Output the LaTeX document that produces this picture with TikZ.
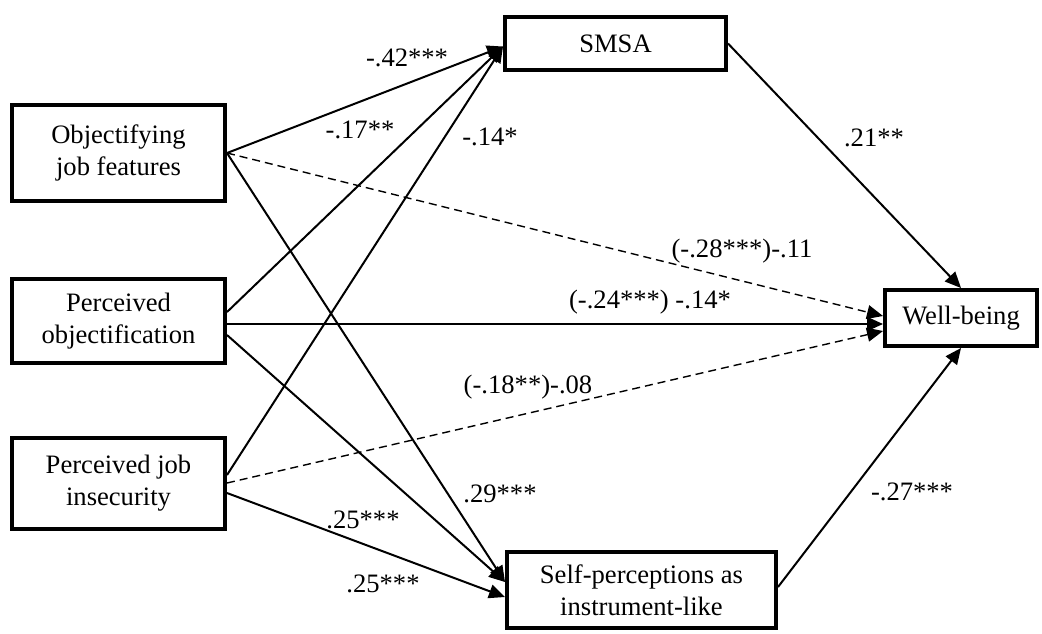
\documentclass[tikz,border=0pt]{standalone}
\usepackage{fontspec}
\setmainfont{Liberation Serif}
\usetikzlibrary{arrows.meta,calc}

\begin{document}
\begin{tikzpicture}[
    x=0.5pt, y=-0.5pt,
    every node/.style={font=\fontsize{13.3}{16}\selectfont},
    caja/.style={draw, line width=2pt, align=center, inner sep=0pt},
    predictor/.style={caja, minimum width=106.5pt},
    flecha/.style={-{Triangle[length=8pt,width=7pt]}, line width=1pt},
    nosig/.style={flecha, line width=0.7pt, dash pattern=on 4pt off 2.5pt}
]
\useasboundingbox (0,0) rectangle (1042,633);
% Predictores
\node[predictor, minimum height=48pt] (obj) at (118.5,153) {Objectifying\\job features};
\node[predictor, minimum height=42pt] (perc) at (118.5,321) {Perceived\\objectification};
\node[predictor, minimum height=45.5pt] (inseg) at (118.5,483) {Perceived job\\insecurity};
% Mediadores
\node[caja, minimum width=110.5pt, minimum height=26.5pt] (smsa) at (615.5,43.5) {SMSA};
\node[caja, minimum width=134.5pt, minimum height=38pt] (instr) at (641.5,590) {Self-perceptions as\\instrument-like};
% Resultado
\node[caja, minimum width=76pt, minimum height=28pt] (bien) at (961,318) {Well-being};
% Aristas
\draw[flecha] (obj.east) -- ($(smsa.west)+(0,3)$);
\draw[flecha] ($(perc.east)+(0,-9)$) -- ($(smsa.west)+(0,3)$);
\draw[flecha] ($(inseg.east)+(0,-8)$) -- ($(smsa.west)+(0,3)$);
\draw[flecha] (obj.east) -- ($(instr.west)+(0,-8)$);
\draw[flecha] ($(perc.east)+(0,14)$) -- ($(instr.west)+(0,-8)$);
\draw[flecha] ($(inseg.east)+(0,10)$) -- ($(instr.west)+(0,7)$);
\draw[nosig] (obj.east) -- ($(bien.west)+(0,-2)$);
\draw[flecha] ($(perc.east)+(0,3)$) -- ($(bien.west)+(0,6)$);
\draw[nosig] (inseg.east) -- ($(bien.west)+(0,13)$);
\draw[flecha] (smsa.east) -- (bien.north);
\draw[flecha] ($(instr.east)+(0,-3)$) -- (bien.south);
% Coeficientes
\node (c1) at (407,58) {-.42***};
\node (c2) at (360,130) {-.17**};
\node (c3) at (490,137) {-.14*};
\node (c4) at (874,138) {.21**};
\node (c5) at (742,251) {(-.28***)-.11};
\node (c6) at (650,302) {(-.24***) -.14*};
\node (c7) at (528,387) {(-.18**)-.08};
\node (c8) at (500,494) {.29***};
\node (c9) at (363,520) {.25***};
\node (c10) at (383,584) {.25***};
\node (c11) at (912,492) {-.27***};
\end{tikzpicture}
\end{document}
